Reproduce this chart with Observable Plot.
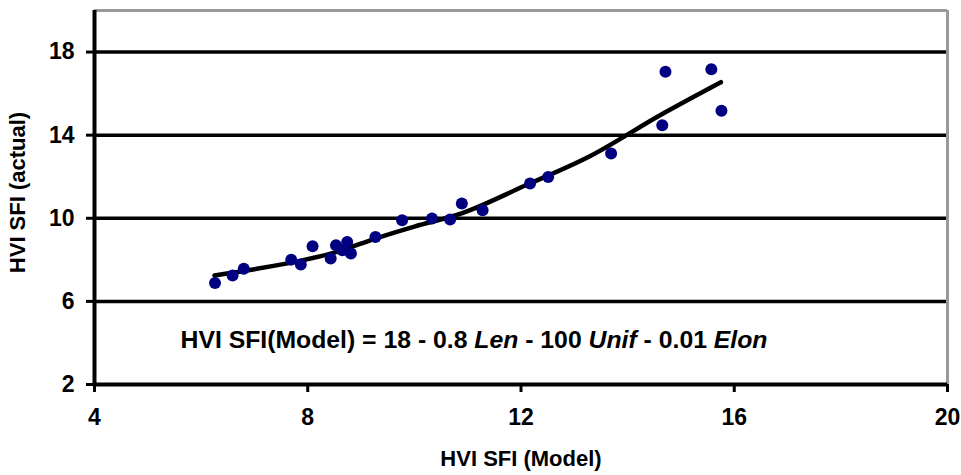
<!DOCTYPE html>
<html>
<head>
<meta charset="utf-8">
<script src="https://cdn.jsdelivr.net/npm/d3@7"></script>
<script src="https://cdn.jsdelivr.net/npm/@observablehq/plot@0.6"></script>
<style>
  html, body { margin: 0; padding: 0; background: white; }
  #chart svg { display: block; }
</style>
</head>
<body>
<div id="chart"></div>
<script>
// Scatter: HVI SFI (Model) vs HVI SFI (actual)
const modelSFI  = [6.26, 6.59, 6.80, 7.69, 7.87, 8.09, 8.43, 8.53, 8.65, 8.74, 8.81, 9.27, 9.77, 10.33, 10.67, 10.89, 11.28, 12.17, 12.51, 13.69, 14.65, 14.71, 15.57, 15.76];
const actualSFI = [6.88, 7.25, 7.57, 8.01, 7.78, 8.65, 8.06, 8.70, 8.46, 8.86, 8.30, 9.10, 9.90, 9.99, 9.94, 10.71, 10.39, 11.67, 11.99, 13.12, 14.48, 17.05, 17.17, 15.17];

// Trend line
const trendX = [6.25, 7.0, 7.85, 8.5, 9.3, 10.0, 10.9, 12.1, 13.3, 14.6, 15.75];
const trendY = [7.25, 7.55, 7.95, 8.35, 9.05, 9.6, 10.25, 11.6, 13.0, 14.95, 16.55];

const xTicks = [4, 8, 12, 16, 20];
const yTicks = [2, 6, 10, 14, 18];
const gridY  = [6, 10, 14, 18];

const xLabel = "HVI SFI (Model)";
const yLabel = "HVI SFI (actual)";
const equationParts = [
  {t: "HVI SFI(Model) = 18 - 0.8 ", i: false},
  {t: "Len", i: true},
  {t: " - 100 ", i: false},
  {t: "Unif", i: true},
  {t: " - 0.01 ", i: false},
  {t: "Elon", i: true}
];

const points = modelSFI.map((x, k) => ({x, y: actualSFI[k]}));
const trend = trendX.map((x, k) => ({x, y: trendY[k]}));
const equation = equationParts.map(d => d.t).join("");

const FONT = "'Liberation Sans', Arial, sans-serif";

const chart = Plot.plot({
  width: 961,
  height: 475,
  marginLeft: 94,
  marginRight: 14,
  marginTop: 10,
  marginBottom: 91,
  style: {fontFamily: FONT, background: "white", color: "black"},
  x: {domain: [4, 20]},
  y: {domain: [2, 20]},
  marks: [
    Plot.ruleY(gridY, {stroke: "black", strokeWidth: 3.5}),
    Plot.ruleY([20], {stroke: "#999", strokeWidth: 3}),
    Plot.ruleX([20], {stroke: "#999", strokeWidth: 3}),
    Plot.ruleX([4], {stroke: "black", strokeWidth: 4}),
    Plot.ruleY([2], {stroke: "black", strokeWidth: 4}),
    Plot.axisX({ticks: xTicks, tickSize: 8, tickPadding: 16, fontSize: 23, fontWeight: "bold", label: null, strokeWidth: 3}),
    Plot.axisY({ticks: yTicks, tickSize: 8, tickPadding: 12, fontSize: 23, fontWeight: "bold", label: null, strokeWidth: 3}),
    Plot.line(trend, {x: "x", y: "y", stroke: "black", strokeWidth: 4.5, curve: "monotone-x"}),
    Plot.dot(points, {x: "x", y: "y", r: 6, fill: "#000080", stroke: "none"}),
    Plot.text([xLabel], {text: d => d, frameAnchor: "bottom", dy: 74, textAnchor: "middle", fontSize: 22, fontWeight: "bold", lineAnchor: "middle"}),
    Plot.text([yLabel], {text: d => d, frameAnchor: "left", dx: -77, dy: -5, rotate: -90, textAnchor: "middle", fontSize: 22, fontWeight: "bold", lineAnchor: "middle"}),
    Plot.text([equation], {text: d => d, frameAnchor: "bottom-left", dx: 86, dy: -44, textAnchor: "start", lineAnchor: "middle", fontSize: 23, fontWeight: "bold", className: "eq"})
  ]
});

document.getElementById("chart").appendChild(chart);

// Italicise the variable names in the equation and stretch it to the reference width
d3.select(chart).selectAll(".eq text").each(function() {
  const t = d3.select(this);
  t.text(null);
  equationParts.forEach(p => {
    t.append("tspan").attr("font-style", p.i ? "italic" : null).text(p.t);
  });
  t.attr("textLength", 587).attr("lengthAdjust", "spacingAndGlyphs");
});
</script>
</body>
</html>
